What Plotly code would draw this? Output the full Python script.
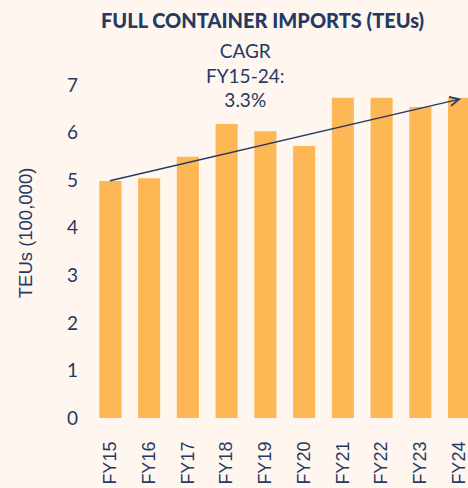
import plotly.graph_objects as go

# Full container imports, TEUs in units of 100,000
years = ["FY15", "FY16", "FY17", "FY18", "FY19", "FY20", "FY21", "FY22", "FY23", "FY24"]
teus = [4.98, 5.04, 5.49, 6.18, 6.03, 5.72, 6.73, 6.73, 6.54, 6.73]
y_ticks = [0, 1, 2, 3, 4, 5, 6, 7]
cagr_label = "CAGR<br>FY15-24:<br>3.3%"

navy = "#243a63"
bar_color = "#fdb755"
bg = "#fef6ef"
lato = "Lato, 'Open Sans', sans-serif"
sans = "'Liberation Sans', Arial, sans-serif"

x_idx = list(range(len(years)))

fig = go.Figure(
    go.Bar(
        x=x_idx,
        y=teus,
        marker=dict(color=bar_color, line=dict(width=0)),
        width=0.57,
    )
)

# Trend arrow from the first to the last year
fig.add_annotation(
    x=x_idx[-1] + 0.05, y=teus[-1] - 0.02, xref="x", yref="y",
    ax=x_idx[0] - 0.05, ay=teus[0], axref="x", ayref="y",
    showarrow=True, arrowhead=5, arrowsize=1.3, arrowwidth=1.4,
    arrowcolor=navy, text="",
)

# CAGR label
fig.add_annotation(
    x=0.409, y=1.03, xref="paper", yref="paper", text=cagr_label,
    xanchor="center", yanchor="middle",
    showarrow=False, font=dict(family=lato, size=19, color=navy),
    align="center",
)

# Chart title
fig.add_annotation(
    x=0.454, y=1.195, xref="paper", yref="paper",
    xanchor="center", yanchor="middle",
    text="FULL CONTAINER IMPORTS (TEUs)", showarrow=False,
    font=dict(family=lato, size=20, color=navy, weight=900),
)

# Y-axis title
fig.add_annotation(
    x=-0.174, y=0.556, xref="paper", yref="paper", text="TEUs (100,000)",
    xanchor="center", yanchor="middle",
    textangle=-90, showarrow=False,
    font=dict(family=sans, size=18.5, color=navy),
)

fig.update_layout(
    width=468, height=488,
    margin=dict(l=91, r=0, t=85, b=70),
    paper_bgcolor=bg, plot_bgcolor=bg,
    showlegend=False,
    font=dict(family=lato, color=navy),
    xaxis=dict(
        range=[-0.5, 9.23], tickmode="array", tickvals=x_idx, ticktext=years,
        tickangle=-90, showgrid=False, zeroline=False, showline=False,
        tickfont=dict(family=sans, size=18, color=navy),
        ticks="", ticklabelstandoff=19, ticklabeloverflow="allow",
    ),
    yaxis=dict(
        range=[0, 7], tickvals=y_ticks, showgrid=False, zeroline=False,
        showline=False, tickfont=dict(family=lato, size=19, color=navy),
        ticks="", ticklabelstandoff=12,
    ),
)

fig.write_html("out.html")
